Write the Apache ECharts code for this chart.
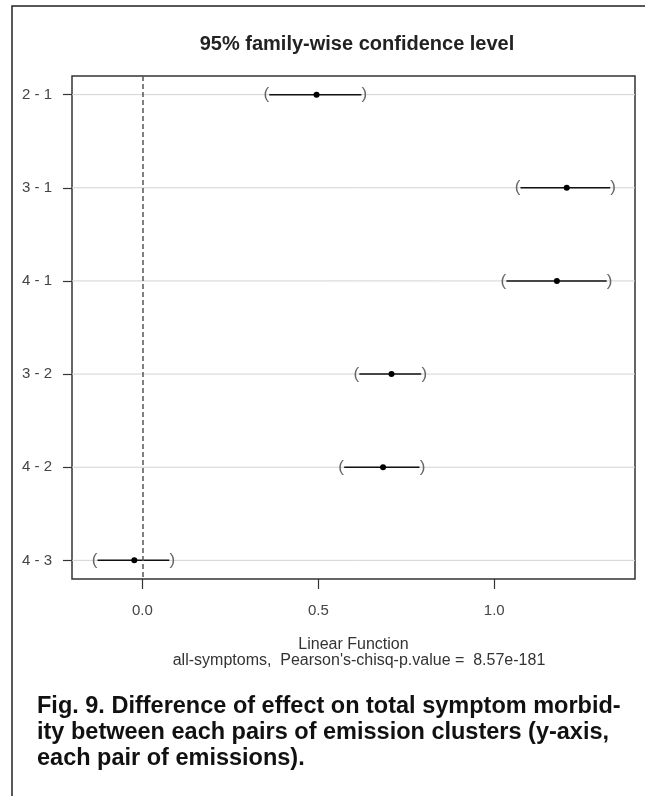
<!DOCTYPE html>
<html>
<head>
<meta charset="utf-8">
<script src="https://cdn.jsdelivr.net/npm/echarts@6/dist/echarts.min.js"></script>
<style>html,body{margin:0;padding:0;background:#fff;}#chart{width:645px;height:796px;}</style>
</head>
<body>
<div id="chart"></div>
<script>
const categories = ['2 - 1', '3 - 1', '4 - 1', '3 - 2', '4 - 2', '4 - 3'];
const estimates = [0.495, 1.206, 1.178, 0.708, 0.684, -0.023];
const lowerCI = [0.352, 1.066, 1.026, 0.608, 0.565, -0.136];
const upperCI = [0.631, 1.338, 1.328, 0.801, 0.796, 0.085];
const xTicks = [0, 0.5, 1.0];
const rowPos = [1, 2, 3, 4, 5, 6];
const titleText = '95% family-wise confidence level';
const xName = 'Linear Function';
const subText = "all-symptoms,  Pearson's-chisq-p.value =  8.57e-181";
const captionText = 'Fig. 9. Difference of effect on total symptom morbid-\nity between each pairs of emission clusters (y-axis,\neach pair of emissions).';

const data = categories.map((c, i) => [lowerCI[i], upperCI[i], estimates[i], rowPos[i]]);

const chart = echarts.init(document.getElementById('chart'), null, {renderer: 'canvas'});
const option = {
  backgroundColor: '#fff',
  animation: false,
  grid: {left: 72, right: 10, top: 76, bottom: 217, show: true, borderColor: '#333', borderWidth: 1.5, backgroundColor: 'transparent'},
  xAxis: {
    type: 'value', min: -0.2, max: 1.4,
    axisLine: {show: false, onZero: false},
    axisTick: {show: true, customValues: xTicks, length: 10, lineStyle: {color: '#333', width: 1.2}},
    axisLabel: {customValues: xTicks, formatter: v => v.toFixed(1), margin: 24, fontSize: 15, color: '#444', fontFamily: 'Liberation Sans'},
    splitLine: {show: false},
    name: xName, nameLocation: 'middle', nameGap: 58,
    nameTextStyle: {fontSize: 16, color: '#333', fontFamily: 'Liberation Sans'}
  },
  yAxis: {
    type: 'value', inverse: true, min: 0.8, max: 6.2,
    axisLine: {show: false, onZero: false},
    axisTick: {show: true, customValues: rowPos, length: 9, lineStyle: {color: '#333', width: 1.2}},
    axisLabel: {customValues: rowPos, formatter: v => categories[Math.round(v) - 1], margin: 20, fontSize: 15, color: '#444', fontFamily: 'Liberation Sans'},
    splitLine: {show: false}
  },
  series: [{
    type: 'custom',
    data: data,
    encode: {x: [0, 1, 2], y: 3},
    renderItem: function (params, api) {
      const y = api.value(3);
      const pLo = api.coord([api.value(0), y]);
      const pHi = api.coord([api.value(1), y]);
      const pEst = api.coord([api.value(2), y]);
      const cs = params.coordSys;
      return {
        type: 'group',
        children: [
          {type: 'line', shape: {x1: cs.x, y1: pLo[1], x2: cs.x + cs.width, y2: pLo[1]}, style: {stroke: '#d3d3d3', lineWidth: 1}, z2: 1},
          {type: 'line', shape: {x1: pLo[0] + 3, y1: pLo[1], x2: pHi[0] - 3, y2: pHi[1]}, style: {stroke: '#111', lineWidth: 1.5}, z2: 5},
          {type: 'text', x: pLo[0], y: pLo[1], style: {text: '(', fill: '#666', font: '17px "Liberation Sans"', align: 'center', verticalAlign: 'middle'}, z2: 5},
          {type: 'text', x: pHi[0], y: pHi[1], style: {text: ')', fill: '#666', font: '17px "Liberation Sans"', align: 'center', verticalAlign: 'middle'}, z2: 5},
          {type: 'circle', shape: {cx: pEst[0], cy: pEst[1], r: 3}, style: {fill: '#000'}, z2: 6}
        ]
      };
    },
    markLine: {
      silent: true, symbol: 'none', label: {show: false},
      lineStyle: {color: '#555', type: [5, 3], width: 1.5},
      data: [{xAxis: 0}]
    }
  }],
  graphic: [
    {type: 'rect', shape: {x: 12, y: 6, width: 700, height: 900}, style: {fill: 'none', stroke: '#222', lineWidth: 1.5}, silent: true},
    {type: 'text', x: 357, y: 44, style: {text: titleText, font: 'bold 20px "Liberation Sans"', fill: '#222', align: 'center', verticalAlign: 'middle'}},
    {type: 'text', x: 359, y: 661, style: {text: subText, font: '16px "Liberation Sans"', fill: '#333', align: 'center', verticalAlign: 'middle'}},
    {type: 'text', x: 37, y: 694, style: {text: captionText, font: 'bold 23.5px "Liberation Sans"', fill: '#111', align: 'left', verticalAlign: 'top', lineHeight: 26}}
  ]
};
chart.setOption(option);
</script>
</body>
</html>
